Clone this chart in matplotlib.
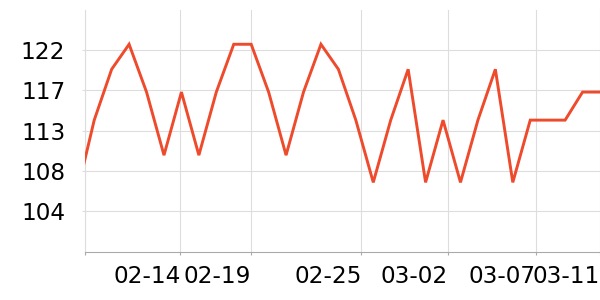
import matplotlib
matplotlib.use("Agg")
import matplotlib.pyplot as plt
import numpy as np

# data (daily values, first point partly outside the visible range)
values = [105.6, 114.0, 119.8, 122.65, 117.2, 110.0, 117.2, 110.0, 117.2, 122.65,
          122.65, 117.2, 110.0, 117.2, 122.65, 119.8, 114.0, 106.9, 114.0, 119.8,
          106.9, 114.0, 106.9, 114.0, 119.8, 106.9, 114.0, 114.0, 114.0, 117.2,
          117.2]
x_tick_pos = [0.5, 5.94, 9.99, 16.32, 21.28, 26.33, 30.0]
x_tick_labels = ["", "02-14", "02-19", "02-25", "03-02", "03-07", "03-11"]
y_tick_pos = [103.6, 108.2, 112.8, 117.4, 122.0]
y_tick_labels = ["104", "108", "113", "117", "122"]

fig = plt.figure(figsize=(6, 3), dpi=100)
ax = fig.add_axes([0.1425, 0.16, 0.8575, 0.8067])

x = np.arange(len(values))
ax.plot(x, values, color="#EE4A2C", linewidth=2.1, solid_joinstyle="miter", zorder=3)

ax.set_xlim(0.5, 30.0)
ax.set_ylim(98.96, 126.56)

ax.set_xticks(x_tick_pos)
ax.set_xticklabels(x_tick_labels, ha="right")
ax.set_yticks(y_tick_pos)
ax.set_yticklabels(y_tick_labels)

ax.grid(True, color="#DDDDDD", linewidth=0.8, zorder=0)
for s in ["top", "right"]:
    ax.spines[s].set_visible(False)
ax.spines["left"].set_color("#DDDDDD")
ax.spines["left"].set_linewidth(0.8)
ax.spines["bottom"].set_color("#AAAAAA")
ax.spines["bottom"].set_linewidth(0.8)

ax.tick_params(axis="x", colors="#AAAAAA", labelcolor="black", length=2.5,
               width=0.8, labelsize=16.7, pad=7)
ax.tick_params(axis="y", colors="#DDDDDD", labelcolor="black", length=2.5,
               width=0.8, labelsize=16.7, pad=12)

fig.savefig("out.png", dpi=100)
